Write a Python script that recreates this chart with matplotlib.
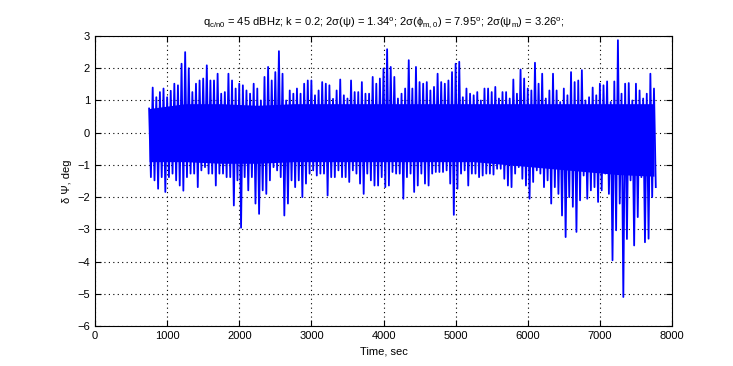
import numpy as np
import matplotlib
matplotlib.use('Agg')
import matplotlib.pyplot as plt

plt.rcParams['font.family'] = ['Liberation Sans', 'DejaVu Sans']
plt.rcParams['mathtext.default'] = 'regular'

# upper peaks / lower dips of the error signal, one pair every 50 s from 750 s
t_start = 750
t_step = 50
peak_hi = [
    0.75, 1.4, 1.1, 1.26, 1.37, 1.1, 1.3, 1.52, 1.47, 2.14,
    2.5, 2.0, 1.26, 1.52, 1.62, 1.68, 2.09, 1.62, 1.62, 1.83,
    1.21, 1.26, 1.83, 1.62, 1.37, 1.52, 1.47, 1.31, 1.21, 1.52,
    1.37, 1.0, 1.73, 2.04, 1.62, 1.88, 2.53, 1.83, 1.0, 1.31,
    1.21, 1.37, 1.21, 1.52, 1.62, 1.62, 1.16, 1.31, 1.57, 1.52,
    1.47, 1.05, 1.31, 1.65, 1.16, 1.06, 1.62, 1.26, 1.26, 1.57,
    1.21, 1.21, 1.73, 1.52, 1.68, 1.99, 2.59, 2.04, 1.73, 1.06,
    1.21, 1.37, 2.25, 1.37, 2.04, 1.57, 1.52, 1.57, 1.31, 1.42,
    1.83, 1.57, 1.52, 1.62, 1.88, 2.14, 2.2, 1.1, 1.37, 1.21,
    1.16, 1.26, 1.0, 1.37, 1.37, 1.26, 1.42, 1.06, 1.26, 1.26,
    1.06, 1.65, 1.21, 1.96, 1.68, 1.37, 1.31, 2.17, 1.52, 1.83,
    1.06, 1.31, 1.83, 1.31, 0.95, 1.37, 1.16, 1.88, 1.57, 1.62,
    1.94, 1.0, 1.1, 1.4, 1.16, 1.52, 1.47, 1.59, 0.95, 1.59,
    2.87, 1.21, 1.52, 1.54, 1.0, 1.52, 1.31, 1.06, 1.21, 1.83,
    1.37,
]
peak_lo = [
    -1.38, -1.48, -1.74, -1.38, -1.84, -1.38, -1.27, -1.48, -1.64, -1.8,
    -1.38, -1.27, -1.27, -1.69, -1.17, -1.07, -1.27, -1.27, -1.64, -1.27,
    -1.27, -1.38, -1.38, -2.26, -1.48, -2.95, -1.38, -1.79, -1.38, -2.2,
    -2.52, -1.79, -1.9, -1.48, -1.07, -1.17, -1.38, -2.57, -2.2, -1.48,
    -1.69, -1.48, -2.0, -1.58, -1.27, -1.17, -1.33, -1.27, -1.27, -1.95,
    -1.38, -1.38, -1.17, -1.38, -1.38, -1.53, -1.17, -1.27, -1.58, -1.9,
    -1.27, -1.48, -1.64, -1.64, -1.38, -1.69, -1.64, -1.22, -1.27, -1.27,
    -2.05, -1.38, -1.27, -1.84, -1.64, -1.27, -1.58, -1.64, -1.27, -1.22,
    -1.22, -1.22, -1.17, -1.58, -2.55, -1.74, -1.27, -1.17, -1.64, -1.27,
    -1.27, -1.38, -1.33, -1.27, -1.27, -1.3, -1.12, -1.12, -1.43, -1.64,
    -1.69, -1.27, -1.07, -1.43, -1.64, -2.05, -1.53, -1.17, -1.27, -1.69,
    -1.48, -2.2, -1.69, -1.9, -2.57, -3.24, -2.0, -2.3, -3.08, -2.1,
    -1.33, -2.05, -1.79, -1.69, -2.15, -1.79, -1.27, -1.9, -3.96, -3.03,
    -2.2, -5.1, -3.3, -1.48, -3.5, -2.62, -1.38, -3.4, -3.29, -2.0,
    -1.69,
]

# edges of the solid noise band, every 500 s from 750 s
band_step = 500
band_hi = [0.75, 0.9, 0.9, 0.85, 0.9, 0.9, 0.9, 0.9, 0.9, 0.9, 0.9, 0.9, 0.9, 0.9, 0.9]
band_lo = [-0.9, -0.9, -0.95, -0.95, -0.9, -0.9, -0.9, -0.9, -0.9, -0.9,
           -1.0, -1.1, -1.2, -1.3, -1.35]

t_hi = t_start + t_step * np.arange(len(peak_hi))
t_lo = t_hi + t_step / 2
t = np.empty(2 * len(peak_hi))
y = np.empty(2 * len(peak_hi))
t[0::2], t[1::2] = t_hi, t_lo
y[0::2], y[1::2] = peak_hi, peak_lo
t_band = t_start + band_step * np.arange(len(band_hi))

fig = plt.figure(figsize=(7.33, 3.66), dpi=100)
ax = fig.add_axes([0.1296, 0.1093, 0.7872, 0.7923])
ax.set_axisbelow(True)
ax.fill_between(t_band, band_lo, band_hi, color='#0000FF', linewidth=0)
ax.plot(t, y, color='#0000FF', linewidth=1.3)

ax.set_xlim(0, 8000)
ax.set_ylim(-6, 3)
ax.set_xticks(np.arange(0, 8001, 1000))
ax.set_yticks(np.arange(-6, 4, 1))
ax.grid(True, color='k', linestyle=(0, (1, 3)), linewidth=0.8)
ax.tick_params(direction='in', top=True, right=True, labelsize=8, length=4)
for s in ax.spines.values():
    s.set_linewidth(0.8)
    s.set_zorder(3)

ax.set_xlabel('Time, sec', fontsize=8)
ax.set_ylabel('δ Ψ, deg', fontsize=8)
ax.set_title(r'$q_{c/n0}$ = 45 dBHz; k = 0.2; 2σ(ψ) = 1.34$^o$; '
             r'2σ($\phi_{m,0}$) = 7.95$^o$; 2σ($\psi_m$) = 3.26$^o$;',
             fontsize=8, pad=8)

fig.savefig('out.png', dpi=100)
